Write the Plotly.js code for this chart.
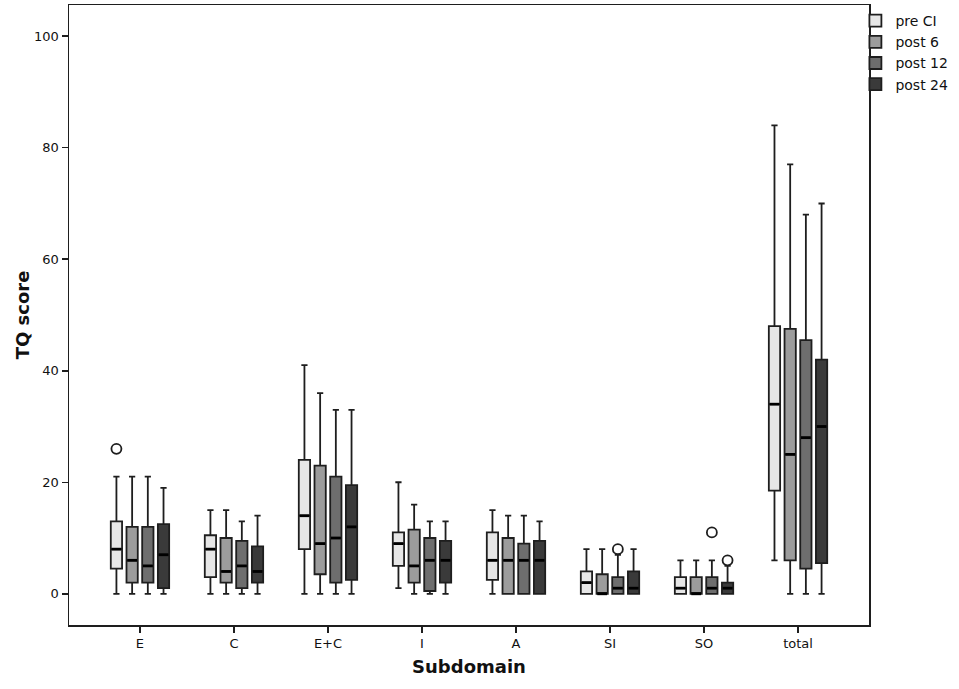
<!DOCTYPE html>
<html>
<head>
<meta charset="utf-8">
<script src="https://cdn.plot.ly/plotly-3.0.1.min.js"></script>
<style>body{margin:0;background:#fff}#chart{width:959px;height:689px}</style>
</head>
<body>
<div id="chart"></div>
<script>
// categories and series
const subdomains = ['E', 'C', 'E+C', 'I', 'A', 'SI', 'SO', 'total'];
const groups = ['pre CI', 'post 6', 'post 12', 'post 24'];

// box statistics, one row per group
const lowerFence = [
  [0, 0, 0, 1, 0, 0, 0, 6],
  [0, 0, 0, 0, 0, 0, 0, 0],
  [0, 0, 0, 0, 0, 0, 0, 0],
  [0, 0, 0, 0, 0, 0, 0, 0]
];
const q1 = [
  [4.5, 3, 8, 5, 2.5, 0, 0, 18.5],
  [2, 2, 3.5, 2, 0, 0, 0, 6],
  [2, 1, 2, 0.5, 0, 0, 0, 4.5],
  [1, 2, 2.5, 2, 0, 0, 0, 5.5]
];
const median = [
  [8, 8, 14, 9, 6, 2, 1, 34],
  [6, 4, 9, 5, 6, 0, 0, 25],
  [5, 5, 10, 6, 6, 1, 1, 28],
  [7, 4, 12, 6, 6, 1, 1, 30]
];
const q3 = [
  [13, 10.5, 24, 11, 11, 4, 3, 48],
  [12, 10, 23, 11.5, 10, 3.5, 3, 47.5],
  [12, 9.5, 21, 10, 9, 3, 3, 45.5],
  [12.5, 8.5, 19.5, 9.5, 9.5, 4, 2, 42]
];
const upperFence = [
  [21, 15, 41, 20, 15, 8, 6, 84],
  [21, 15, 36, 16, 14, 8, 6, 77],
  [21, 13, 33, 13, 14, 7, 6, 68],
  [19, 14, 33, 13, 13, 8, 5, 70]
];

// outliers: group index, subdomain index, value
const outlierGroup = [0, 2, 2, 3];
const outlierCat = [0, 5, 6, 6];
const outlierValue = [26, 8, 11, 6];

const fills = ['#e6e6e6', '#9c9c9c', '#6e6e6e', '#3a3a3a'];
const ink = '#1e1e1e';
const slot = 0.167;
const boxW = 0.12;
const font = 'DejaVu Sans';

function pos(g, c) {
  return c + (g - 1.5) * slot;
}

let data = [];
groups.forEach(function (name, g) {
  let xs = subdomains.map((s, c) => pos(g, c));
  data.push({
    type: 'box',
    name: name,
    x: xs,
    lowerfence: lowerFence[g],
    q1: q1[g],
    median: median[g],
    q3: q3[g],
    upperfence: upperFence[g],
    width: boxW,
    whiskerwidth: 0.55,
    fillcolor: fills[g],
    line: {color: ink, width: 1.8},
    hoverinfo: 'skip'
  });
});

// thicker median bars, as in the original
groups.forEach(function (name, g) {
  data.push({
    type: 'scatter',
    mode: 'markers',
    x: subdomains.map((s, c) => pos(g, c)),
    y: median[g],
    marker: {symbol: 'line-ew', size: 7, line: {color: '#000', width: 2.8}},
    showlegend: false,
    hoverinfo: 'skip'
  });
});

data.push({
  type: 'scatter',
  mode: 'markers',
  x: outlierGroup.map((g, i) => pos(g, outlierCat[i])),
  y: outlierValue,
  marker: {symbol: 'circle', size: 10, color: '#fff', line: {color: ink, width: 1.8}},
  showlegend: false,
  hoverinfo: 'skip'
});

let layout = {
  width: 959,
  height: 689,
  paper_bgcolor: '#fff',
  plot_bgcolor: '#fff',
  margin: {l: 69, r: 90, t: 5, b: 64},
  showlegend: true,
  font: {family: font, size: 13, color: '#111'},
  xaxis: {
    range: [-0.755, 7.755],
    tickmode: 'array',
    tickvals: subdomains.map((s, c) => c),
    ticktext: subdomains,
    ticks: 'outside',
    ticklen: 6,
    tickwidth: 1.5,
    tickcolor: ink,
    showline: true,
    mirror: true,
    linecolor: ink,
    linewidth: 1.5,
    showgrid: false,
    zeroline: false,
    tickfont: {family: font, size: 13},
    title: {text: 'Subdomain', standoff: 10, font: {family: font, size: 18, weight: 'bold', color: '#111'}}
  },
  yaxis: {
    range: [-5.6, 105.6],
    tickmode: 'array',
    tickvals: [0, 20, 40, 60, 80, 100],
    ticks: 'outside',
    ticklen: 6,
    tickwidth: 1.5,
    tickcolor: ink,
    showline: true,
    mirror: true,
    linecolor: ink,
    linewidth: 1.5,
    showgrid: false,
    zeroline: false,
    tickfont: {family: font, size: 13},
    title: {text: 'TQ score', standoff: 0, font: {family: font, size: 18, weight: 'bold', color: '#111'}}
  },
  legend: {
    x: 0.983,
    xanchor: 'left',
    y: 1.0,
    yanchor: 'top',
    bgcolor: 'rgba(0,0,0,0)',
    font: {family: font, size: 14, color: '#111'},
    tracegroupgap: 0,
    itemwidth: 30
  }
};

Plotly.newPlot('chart', data, layout, {staticPlot: true});
</script>
</body>
</html>
